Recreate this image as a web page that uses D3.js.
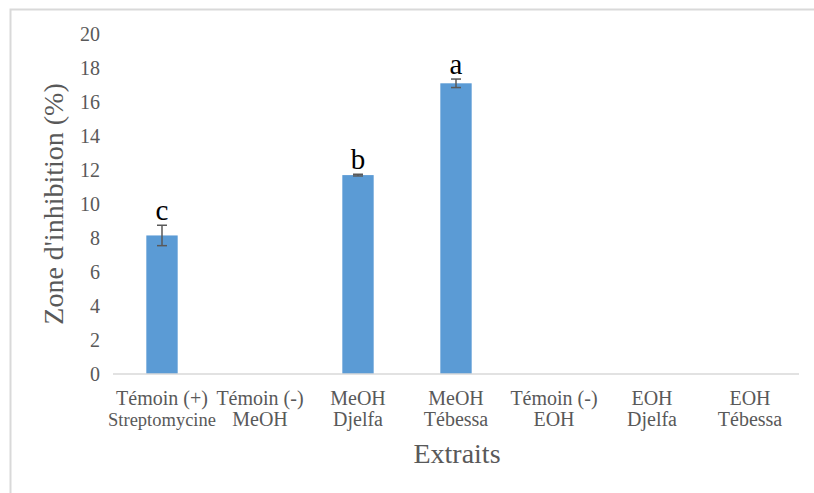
<!DOCTYPE html>
<html>
<head>
<meta charset="utf-8">
<script src="https://cdn.jsdelivr.net/npm/d3@7"></script>
<style>
  body { margin: 0; background: #fff; }
  svg { display: block; }
  svg text { font-family: "Liberation Serif", "Times New Roman", serif; }
</style>
</head>
<body>
<div id="chart"></div>
<script>
const categories = [
  ['Témoin (+)', 'Streptomycine'],
  ['Témoin (-)', 'MeOH'],
  ['MeOH', 'Djelfa'],
  ['MeOH', 'Tébessa'],
  ['Témoin (-)', 'EOH'],
  ['EOH', 'Djelfa'],
  ['EOH', 'Tébessa']
];
const values = [8.15, 0, 11.7, 17.1, 0, 0, 0];
const errors = [0.6, 0, 0.05, 0.25, 0, 0, 0];
const letters = ['c', '', 'b', 'a', '', '', ''];
const yTicks = [0, 2, 4, 6, 8, 10, 12, 14, 16, 18, 20];

const W = 814, H = 493;
const margin = { top: 34, right: 15, bottom: 119, left: 113 };
const width = 799 - margin.left;
const height = 374 - margin.top;
const serif = '"Liberation Serif", "Times New Roman", serif';

const svg = d3.select('#chart').append('svg')
  .attr('width', W)
  .attr('height', H)
  .attr('font-family', serif);

// outer frame (only top and left edges visible)
svg.append('path')
  .attr('d', `M10.5,${H} V9.5 H${W}`)
  .attr('fill', 'none')
  .attr('stroke', '#d9d9d9')
  .attr('stroke-width', 2);

const g = svg.append('g')
  .attr('transform', `translate(${margin.left},${margin.top})`);

const x = d3.scaleBand()
  .domain(d3.range(categories.length))
  .range([0, width])
  .paddingInner(0.68)
  .paddingOuter(0.34);

const y = d3.scaleLinear()
  .domain([0, 20])
  .range([height, 0]);

// bars
g.selectAll('rect.bar')
  .data(values)
  .enter()
  .append('rect')
  .attr('class', 'bar')
  .attr('x', (d, i) => x(i))
  .attr('y', d => y(d))
  .attr('width', x.bandwidth())
  .attr('height', d => height - y(d))
  .style('fill', '#5b9bd5');

// Y axis (labels only)
const yAxis = g.append('g')
  .call(d3.axisLeft(y).tickValues(yTicks).tickSize(0).tickPadding(13))
  .attr('font-family', serif);
yAxis.select('.domain').remove();
yAxis.selectAll('text')
  .attr('dy', '0.34em')
  .style('font-family', serif)
  .style('font-size', '20px')
  .style('fill', '#595959');

// X axis baseline
g.append('line')
  .attr('x1', 0)
  .attr('x2', width)
  .attr('y1', height)
  .attr('y2', height)
  .attr('stroke', '#d9d9d9')
  .attr('stroke-width', 1.5);

// error bars
const errData = values.map((v, i) => ({ v, e: errors[i], i })).filter(d => d.v > 0);
const eb = g.selectAll('g.err')
  .data(errData)
  .enter()
  .append('g')
  .attr('class', 'err')
  .attr('stroke', '#595959')
  .attr('stroke-width', 1.5);
eb.append('line')
  .attr('x1', d => x(d.i) + x.bandwidth() / 2)
  .attr('x2', d => x(d.i) + x.bandwidth() / 2)
  .attr('y1', d => y(d.v + d.e))
  .attr('y2', d => y(d.v - d.e));
eb.append('line')
  .attr('x1', d => x(d.i) + x.bandwidth() / 2 - 5)
  .attr('x2', d => x(d.i) + x.bandwidth() / 2 + 5)
  .attr('y1', d => y(d.v + d.e))
  .attr('y2', d => y(d.v + d.e));
eb.append('line')
  .attr('x1', d => x(d.i) + x.bandwidth() / 2 - 5)
  .attr('x2', d => x(d.i) + x.bandwidth() / 2 + 5)
  .attr('y1', d => y(d.v - d.e))
  .attr('y2', d => y(d.v - d.e));

// significance letters
g.selectAll('text.letter')
  .data(letters)
  .enter()
  .append('text')
  .attr('class', 'letter')
  .attr('x', (d, i) => x(i) + x.bandwidth() / 2)
  .attr('y', (d, i) => y(values[i] + errors[i]) - 5)
  .style('text-anchor', 'middle')
  .style('font-family', serif)
  .style('font-size', '29px')
  .style('fill', '#000')
  .text(d => d);

// category labels
const cat = g.selectAll('g.cat')
  .data(categories)
  .enter()
  .append('g')
  .attr('class', 'cat')
  .attr('transform', (d, i) => `translate(${x(i) + x.bandwidth() / 2},${height})`);
cat.append('text')
  .attr('y', 31)
  .style('text-anchor', 'middle')
  .style('font-family', serif)
  .style('font-size', '20px')
  .style('fill', '#595959')
  .text(d => d[0]);
cat.append('text')
  .attr('y', 52)
  .style('text-anchor', 'middle')
  .style('font-family', serif)
  .style('font-size', (d, i) => i === 0 ? '18.5px' : '20px')
  .style('fill', '#595959')
  .text(d => d[1]);

// X label
svg.append('text')
  .attr('x', 457)
  .attr('y', 463)
  .style('text-anchor', 'middle')
  .style('font-family', serif)
  .style('font-size', '28px')
  .style('fill', '#595959')
  .text('Extraits');

// Y label
svg.append('text')
  .attr('transform', 'rotate(-90)')
  .attr('x', -204)
  .attr('y', 63)
  .style('text-anchor', 'middle')
  .style('font-family', serif)
  .style('font-size', '28px')
  .style('fill', '#595959')
  .text("Zone d'inhibition (%)");
</script>
</body>
</html>
